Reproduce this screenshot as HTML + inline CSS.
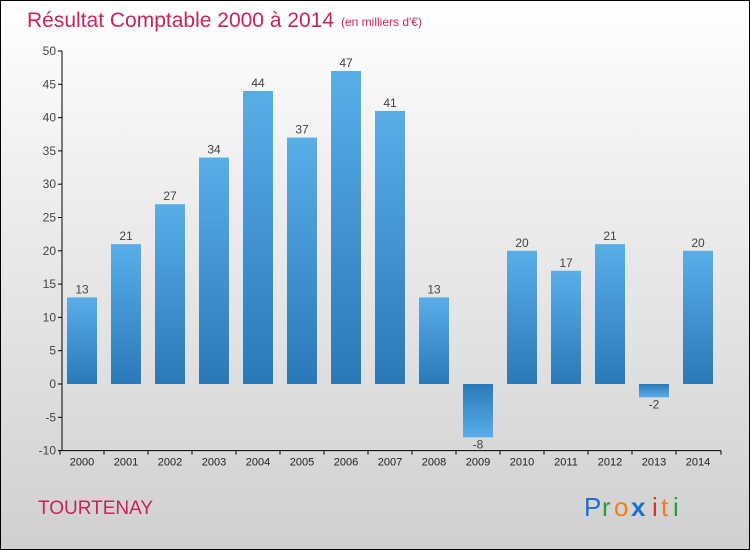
<!DOCTYPE html>
<html><head><meta charset="utf-8"><style>
body{margin:0}
#c{width:748px;height:548px;border:1px solid #000;background:linear-gradient(#fff,#f0f0f0 30%,#d0d0d0);position:relative;font-family:"Liberation Sans",sans-serif;overflow:hidden}
</style></head><body>
<div id="c">
<svg width="748" height="548" id="svg" style="position:absolute;left:0;top:0">
<defs><linearGradient id="bg" x1="0" y1="0" x2="0" y2="1"><stop offset="0" stop-color="#5aaee8"/><stop offset="1" stop-color="#2a78b8"/></linearGradient>
<linearGradient id="bgn" x1="0" y1="0" x2="0" y2="1"><stop offset="0" stop-color="#2a78b8"/><stop offset="1" stop-color="#5aaee8"/></linearGradient></defs>
<text x="26" y="26" font-size="21" fill="#c8245a">Résultat Comptable 2000 à 2014</text>
<text x="340" y="25" font-size="12" fill="#c8245a">(en milliers d'€)</text>
<text x="37" y="513" font-size="19" fill="#c8245a">TOURTENAY</text>
<g font-size="26" font-family="'Liberation Sans',sans-serif">
<text x="583" y="515" fill="#1a6fd0">P</text><text x="601" y="515" fill="#2a9a3a">r</text><text x="613" y="515" fill="#f08010">o</text><text x="630" y="515" fill="#1a6fd0" font-weight="bold">x</text><text x="651" y="515" fill="#e03020">i</text><text x="660" y="515" fill="#f08010">t</text><text x="672" y="515" fill="#2a9a3a">i</text></g>
<g id="plot"></g>
</svg></div>
<script>
const years=["2000","2001","2002","2003","2004","2005","2006","2007","2008","2009","2010","2011","2012","2013","2014"];
const values=[13,21,27,34,44,37,47,41,13,-8,20,17,21,-2,20];
const yTicks=[-10,-5,0,5,10,15,20,25,30,35,40,45,50];
const NS="http://www.w3.org/2000/svg";
const g=document.getElementById('plot');
const y=v=>383-v*6.66;
const x=i=>81+i*44;
function mk(t,a,p){const e=document.createElementNS(NS,t);for(const k in a)e.setAttribute(k,a[k]);(p||g).appendChild(e);return e;}
let ax=mk('line',{x1:61,y1:y(50),x2:61,y2:y(-10),stroke:'#000'});


let bx=mk('line',{x1:61,y1:y(-10),x2:720,y2:y(-10),stroke:'#000'});


yTicks.forEach(v=>{
 mk('line',{x1:57,x2:61,y1:y(v),y2:y(v),stroke:'#000'});
 let t=mk('text',{x:55,y:y(v)+4,'text-anchor':'end','font-size':12,fill:'#444'});t.textContent=v;
 
 
});
years.forEach((yr,i)=>{
 mk('line',{x1:x(i)-22,x2:x(i)-22,y1:y(-10),y2:y(-10)+4,stroke:'#000'});
 let t=mk('text',{x:x(i),y:y(-10)+15,'text-anchor':'middle','font-size':11,fill:'#222'});t.textContent=yr;
 
 
 const v=values[i];
 const top=Math.min(y(v),y(0)),h=Math.abs(y(v)-y(0));
 let r=mk('rect',{x:x(i)-15,y:top,width:30,height:h,fill:v<0?'url(#bgn)':'url(#bg)'});
 
 
 let l=mk('text',{x:x(i),y:v<0?y(v)+11:y(v)-4,'text-anchor':'middle','font-size':12,fill:'#444'});l.textContent=v;
 
 
});
mk('line',{x1:720,x2:720,y1:y(-10),y2:y(-10)+4,stroke:'#000'});
</script>
</body></html>
